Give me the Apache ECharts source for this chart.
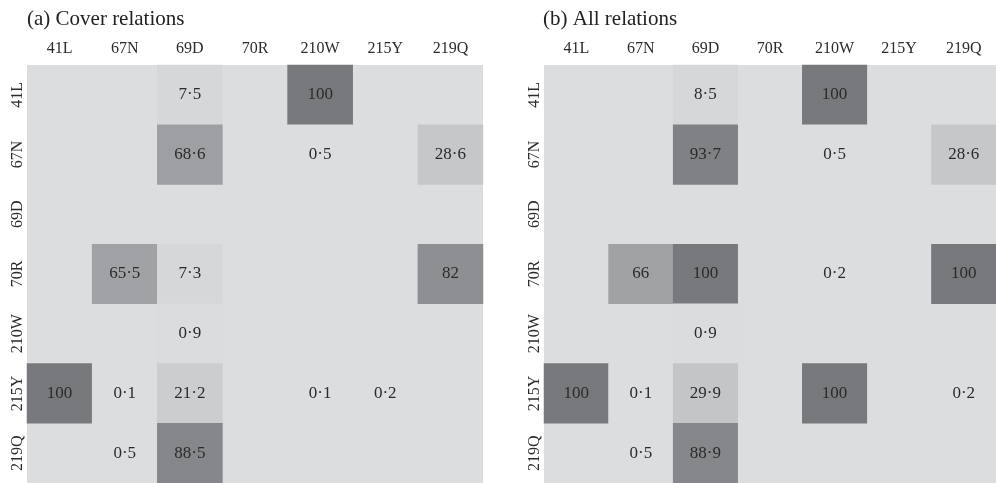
<!DOCTYPE html>
<html>
<head>
<meta charset="utf-8">
<script src="https://cdn.jsdelivr.net/npm/echarts@6/dist/echarts.min.js"></script>
<style>html,body{margin:0;padding:0;background:#fff;}#c{width:996px;height:483px;}</style>
</head>
<body>
<div id="c"></div>
<script>
const residues = ['41L', '67N', '69D', '70R', '210W', '215Y', '219Q'];
const titleA = '(a) Cover relations';
const titleB = '(b) All relations';
// rows (top to bottom) x columns (left to right); null = empty cell
const coverRelations = [
  [null, null, 7.5, null, 100, null, null],
  [null, null, 68.6, null, 0.5, null, 28.6],
  [null, null, null, null, null, null, null],
  [null, 65.5, 7.3, null, null, null, 82],
  [null, null, 0.9, null, null, null, null],
  [100, 0.1, 21.2, null, 0.1, 0.2, null],
  [null, 0.5, 88.5, null, null, null, null]
];
const allRelations = [
  [null, null, 8.5, null, 100, null, null],
  [null, null, 93.7, null, 0.5, null, 28.6],
  [null, null, null, null, null, null, null],
  [null, 66, 100, null, 0.2, null, 100],
  [null, null, 0.9, null, null, null, null],
  [100, 0.1, 29.9, null, 100, null, 0.2],
  [null, 0.5, 88.9, null, null, null, null]
];

function toCells(matrix) {
  const out = [];
  matrix.forEach((row, r) => row.forEach((v, c) => { if (v !== null) out.push([c, r, v]); }));
  return out;
}
const FONT = '"Liberation Serif", "Times New Roman", serif';
const TXT = '#2b2b2b';
function xAx(i) {
  return { type: 'category', gridIndex: i, data: residues, position: 'top',
    axisLine: { show: false }, axisTick: { show: false }, splitLine: { show: false },
    axisLabel: { fontFamily: FONT, fontSize: 16, color: TXT, margin: 8, interval: 0 } };
}
function yAx(i) {
  return { type: 'category', gridIndex: i, data: residues, inverse: true,
    axisLine: { show: false }, axisTick: { show: false }, splitLine: { show: false },
    axisLabel: { fontFamily: FONT, fontSize: 16, color: TXT, rotate: 90, margin: 1, interval: 0 } };
}
function series(i, m) {
  return { type: 'heatmap', xAxisIndex: i, yAxisIndex: i, data: toCells(m),
    label: { show: true, fontFamily: FONT, fontSize: 17, color: TXT,
      formatter: p => String(p.value[2]).replace('.', '\u00b7') },
    itemStyle: { borderWidth: 0 }, emphasis: { disabled: true } };
}
const chart = echarts.init(document.getElementById('c'), null, { renderer: 'canvas' });
chart.setOption({
  backgroundColor: '#ffffff',
  animation: false,
  title: [
    { text: titleA, left: 22, top: 4, textStyle: { fontFamily: FONT, fontSize: 21, fontWeight: 'normal', color: '#222' } },
    { text: titleB, left: 538, top: 4, textStyle: { fontFamily: FONT, fontSize: 21, fontWeight: 'normal', color: '#222' } }
  ],
  grid: [
    { left: 27, top: 65, width: 456, height: 418, show: true, backgroundColor: '#dcdddf', borderWidth: 0 },
    { left: 544, top: 65, width: 456, height: 418, show: true, backgroundColor: '#dcdddf', borderWidth: 0 }
  ],
  xAxis: [xAx(0), xAx(1)],
  yAxis: [yAx(0), yAx(1)],
  visualMap: {
    show: false, min: 0, max: 100, seriesIndex: [0, 1], dimension: 2,
    inRange: { color: ['#dcdddf', '#c9cacc', '#b2b3b5', '#97989b', '#78797c'] }
  },
  series: [series(0, coverRelations), series(1, allRelations)]
});
</script>
</body>
</html>
